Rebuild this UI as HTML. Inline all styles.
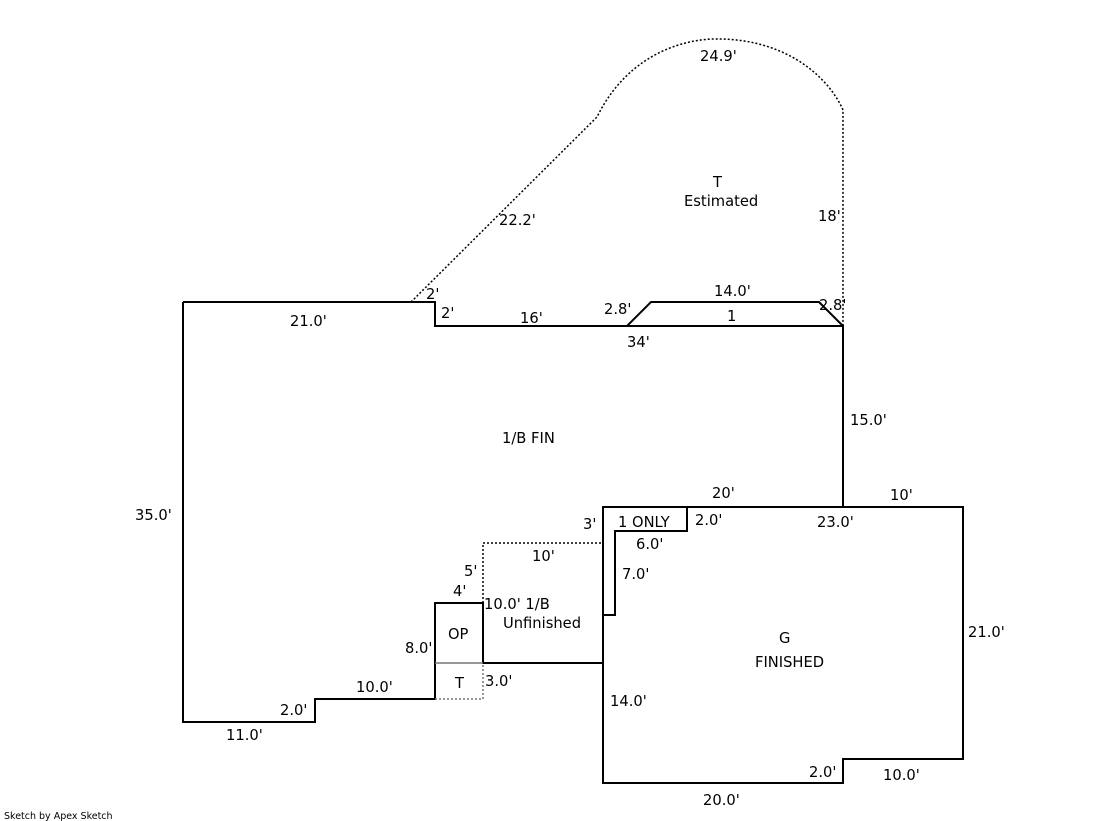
<!DOCTYPE html>
<html><head><meta charset="utf-8"><style>
html,body{margin:0;padding:0;background:#fff;}
svg{display:block}
text{font-family:"DejaVu Sans","Liberation Sans",sans-serif;font-size:14.7px;fill:#000;}
</style></head><body>
<svg width="1119" height="821" viewBox="0 0 1119 821" xmlns="http://www.w3.org/2000/svg">
<g fill="none" stroke="#000" stroke-width="2">
<path d="M183,302 H435 V326 H843 V507"/>
<path d="M183,302 V722 H315 V699 H435 V603 H483 V663 H603"/>
<path d="M603,507 H963 V759 H843 V783 H603 Z"/>
<path d="M603,507 H687 V531 H615 V615 H603"/>
<path d="M627,326 L651,302 H819 L843,326"/>
</g>
<g fill="none" stroke="#000" stroke-width="1.5" stroke-dasharray="2,2">
<path d="M483,603 V543 H603"/>
<path d="M411,302 L597,117 C630,50 690,38 720,39 C790,40 830,80 843,110 V326"/>
</g>
<g fill="none" stroke="#777" stroke-width="1.5">
<path d="M435,663 H483"/>
<path d="M435,699 H483 V663" stroke-dasharray="2,2"/>
</g>
<text x="700" y="61">24.9'</text>
<text x="713" y="187">T</text>
<text x="684" y="206">Estimated</text>
<text x="499" y="225">22.2'</text>
<text x="818" y="221">18'</text>
<text x="714" y="296">14.0'</text>
<text x="426" y="299">2'</text>
<text x="819" y="310">2.8'</text>
<text x="604" y="314">2.8'</text>
<text x="290" y="326">21.0'</text>
<text x="441" y="318">2'</text>
<text x="520" y="323">16'</text>
<text x="727" y="321">1</text>
<text x="627" y="347">34'</text>
<text x="850" y="425">15.0'</text>
<text x="502" y="443">1/B FIN</text>
<text x="712" y="498">20'</text>
<text x="890" y="500">10'</text>
<text x="135" y="520">35.0'</text>
<text x="583" y="529">3'</text>
<text x="618" y="527">1 ONLY</text>
<text x="695" y="525">2.0'</text>
<text x="817" y="527">23.0'</text>
<text x="636" y="549">6.0'</text>
<text x="532" y="561">10'</text>
<text x="464" y="576">5'</text>
<text x="622" y="579">7.0'</text>
<text x="453" y="596">4'</text>
<text x="484" y="609">10.0' 1/B</text>
<text x="503" y="628">Unfinished</text>
<text x="448" y="639">OP</text>
<text x="779" y="643">G</text>
<text x="968" y="637">21.0'</text>
<text x="405" y="653">8.0'</text>
<text x="755" y="667">FINISHED</text>
<text x="455" y="688">T</text>
<text x="485" y="686">3.0'</text>
<text x="356" y="692">10.0'</text>
<text x="610" y="706">14.0'</text>
<text x="280" y="715">2.0'</text>
<text x="226" y="740">11.0'</text>
<text x="809" y="777">2.0'</text>
<text x="883" y="780">10.0'</text>
<text x="703" y="805">20.0'</text>
<text x="4" y="819" style="font-size:9.5px">Sketch by Apex Sketch</text>
</svg>
</body></html>
